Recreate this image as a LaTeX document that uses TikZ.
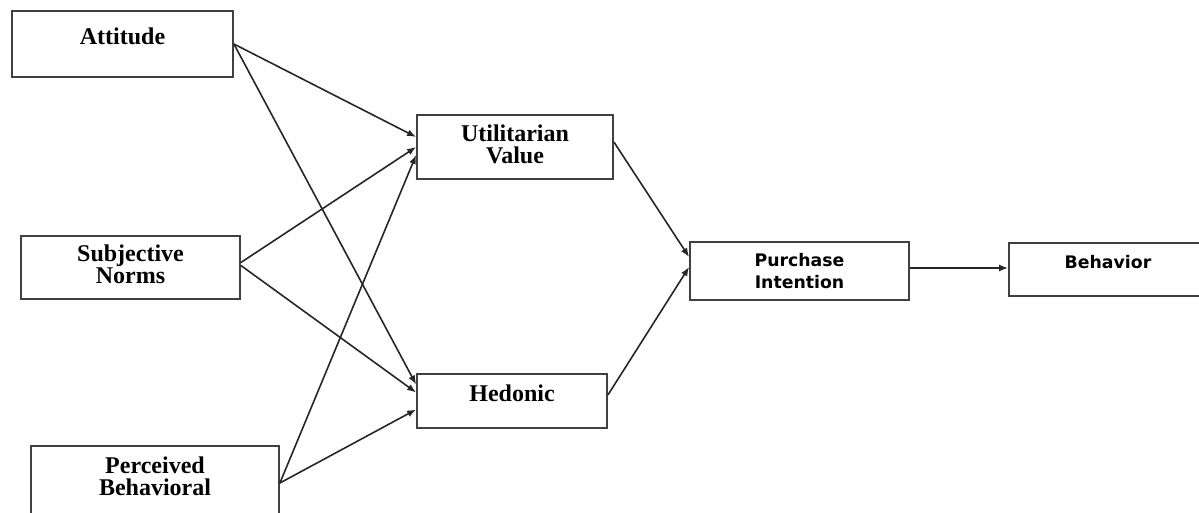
\documentclass[tikz,border=0pt]{standalone}
\usepackage{fontspec}
\setmainfont{Liberation Serif}
\newfontfamily\sansbold{DejaVu Sans}
\usetikzlibrary{calc,arrows.meta}

\begin{document}
\begin{tikzpicture}[x=0.5pt,y=-0.5pt,>={Latex[length=4.5pt,width=3.5pt]},
    box/.style={draw=black!75,line width=0.9pt,inner sep=0pt,align=center,
        font=\fontsize{12}{11}\selectfont\bfseries},
    sbox/.style={box,font=\fontsize{8.65}{11}\selectfont\sansbold\bfseries},
    link/.style={->,black!85,line width=0.8pt}]
        % frame of the picture
        \useasboundingbox (0,0) rectangle (1199,513);
        % predictors on the left
        \node[box,minimum width=110.5pt,minimum height=33pt,text depth=8pt] (att) at (122.5,44) {Attitude};
        \node[box,minimum width=109.5pt,minimum height=31.5pt,text depth=3.5pt] (subj) at (130.5,267.5) {Subjective\\Norms};
        \node[box,minimum width=124pt,minimum height=45pt,text depth=14.5pt] (pbc) at (155,491) {Perceived\\Behavioral};
        % the two values in the middle
        \node[box,minimum width=98pt,minimum height=32pt,text depth=3pt] (ut) at (515,147) {Utilitarian\\Value};
        \node[box,minimum width=95pt,minimum height=27pt,text depth=8pt] (hed) at (512,401) {Hedonic};
        % outcomes on the right
        \node[sbox,minimum width=109.5pt,minimum height=29pt] (pi) at (799.5,271) {Purchase\\Intention};
        \node[sbox,minimum width=99pt,minimum height=26.5pt,text depth=7.5pt] (beh) at (1108,269.5) {Behavior};
        % arrows from the predictors to the values
        \foreach \src/\s/\dst/\d in {
            att/0/ut/5,
            att/0/hed/8.25,
            subj/2.5/ut/0,
            subj/1/hed/4.25,
            pbc/4/ut/-4,
            pbc/4/hed/-4.25}
                \draw[link] ([yshift=\s pt]\src.east) -- ([yshift=\d pt]\dst.west);
        % arrows from the values to the intention
        \draw[link] ([yshift=2.5pt]ut.east) -- ([yshift=7pt]pi.west);
        \draw[link] ([yshift=3pt]hed.east) -- ([yshift=2pt]pi.west);
        % intention to behavior
        \draw[link] ([yshift=1.5pt]pi.east) -- ([yshift=1.5pt]pi.east -| beh.west);
\end{tikzpicture}
\end{document}
